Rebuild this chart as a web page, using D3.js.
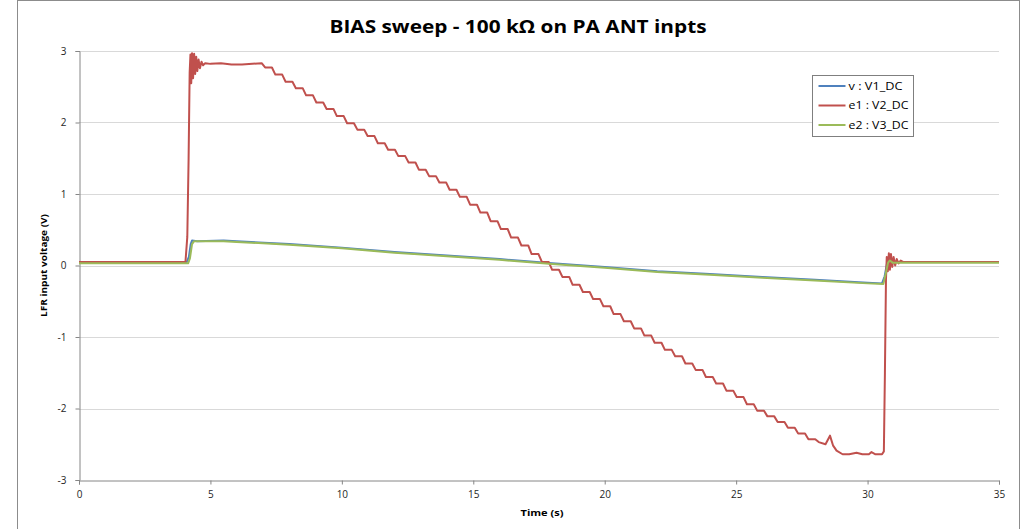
<!DOCTYPE html>
<html><head><meta charset="utf-8">
<script src="https://cdn.jsdelivr.net/npm/d3@7"></script>
<style>
body{margin:0;background:#fff}
svg{display:block}
text{font-family:"Open Sans",Lato,"DejaVu Sans",sans-serif}
</style>
</head><body>
<svg id="chart" width="1025" height="529"></svg>
<script>
// ---------- data ----------
const chartTitle = "BIAS sweep - 100 kΩ on PA ANT inpts";
const xAxisTitle = "Time (s)";
const yAxisTitle = "LFR input voltage (V)";
const xTickValues = [0, 5, 10, 15, 20, 25, 30, 35];
const yTickValues = [-3, -2, -1, 0, 1, 2, 3];
const seriesNames = ["v : V1_DC", "e1 : V2_DC", "e2 : V3_DC"];

// v : V1_DC
const v1Time = [0, 4.1, 4.18, 4.25, 4.3, 4.5, 5.5, 6.0, 8, 10, 12, 14, 16, 18, 20, 22, 24, 26, 28, 30, 30.55, 30.65, 30.75, 30.8, 30.9, 35];
const v1Volt = [0.05, 0.05, 0.12, 0.30, 0.35, 0.34, 0.35, 0.34, 0.30, 0.25, 0.19, 0.14, 0.09, 0.03, -0.02, -0.08, -0.12, -0.16, -0.20, -0.24, -0.25, -0.15, 0.05, 0.08, 0.05, 0.05];

// e1 : V2_DC
const v2Time = [0, 4.05, 4.12, 4.17, 4.21, 4.24, 4.27, 4.30, 4.34, 4.38, 4.42, 4.46, 4.50, 4.55, 4.60, 4.66, 4.72, 4.8, 5.0, 5.4, 5.8, 6.2, 6.6,
  6.95, 7.08, 7.34, 7.47, 7.73, 7.86, 8.12, 8.25, 8.51, 8.64, 8.90, 9.03, 9.29, 9.42, 9.68, 9.81,
  10.07, 10.20, 10.46, 10.59, 10.85, 10.98, 11.24, 11.37, 11.63, 11.76, 12.02, 12.15, 12.41, 12.54, 12.80, 12.93,
  13.19, 13.32, 13.58, 13.71, 13.97, 14.10, 14.36, 14.49, 14.75, 14.88, 15.14, 15.27, 15.53, 15.66, 15.92, 16.05,
  16.31, 16.44, 16.70, 16.83, 17.09, 17.22, 17.48, 17.61, 17.87, 18.00, 18.26, 18.39, 18.65, 18.78, 19.04, 19.17,
  19.43, 19.56, 19.82, 19.95, 20.21, 20.34, 20.60, 20.73, 20.99, 21.12, 21.38, 21.51, 21.77, 21.90, 22.16, 22.29,
  22.55, 22.68, 22.94, 23.07, 23.33, 23.46, 23.72, 23.85, 24.11, 24.24, 24.50, 24.63, 24.89, 25.02, 25.28, 25.41,
  25.67, 25.80, 26.06, 26.19, 26.45, 26.58, 26.84, 26.97, 27.23, 27.36, 27.62, 27.75, 28.01, 28.14,
  28.40, 28.57, 28.69, 28.82, 29.05, 29.3, 29.58, 29.8, 30.05, 30.15, 30.3, 30.55, 30.62, 30.66, 30.70, 30.73,
  30.77, 30.81, 30.85, 30.89, 30.94, 30.99, 31.05, 31.11, 31.18, 31.26, 31.35, 35];
const v2Volt = [0.05, 0.05, 0.4, 1.5, 2.7, 2.95, 2.55, 2.97, 2.62, 2.96, 2.68, 2.92, 2.72, 2.88, 2.76, 2.85, 2.80, 2.83, 2.82, 2.83, 2.81, 2.81, 2.82,
  2.83, 2.77, 2.77, 2.67, 2.67, 2.57, 2.57, 2.48, 2.48, 2.38, 2.38, 2.28, 2.28, 2.19, 2.19, 2.09,
  2.09, 1.99, 1.99, 1.90, 1.90, 1.81, 1.81, 1.71, 1.71, 1.62, 1.62, 1.53, 1.53, 1.44, 1.44, 1.34,
  1.34, 1.25, 1.25, 1.16, 1.16, 1.06, 1.06, 0.96, 0.96, 0.85, 0.85, 0.74, 0.74, 0.62, 0.62, 0.51,
  0.51, 0.39, 0.39, 0.28, 0.28, 0.16, 0.16, 0.05, 0.05, -0.06, -0.06, -0.16, -0.16, -0.27, -0.27, -0.37,
  -0.37, -0.47, -0.47, -0.57, -0.57, -0.68, -0.68, -0.78, -0.78, -0.88, -0.88, -0.98, -0.98, -1.08, -1.08, -1.18,
  -1.18, -1.27, -1.27, -1.37, -1.37, -1.46, -1.46, -1.56, -1.56, -1.65, -1.65, -1.75, -1.75, -1.84, -1.84, -1.94,
  -1.94, -2.03, -2.03, -2.11, -2.11, -2.19, -2.19, -2.27, -2.27, -2.35, -2.35, -2.43, -2.43, -2.47,
  -2.50, -2.38, -2.52, -2.59, -2.64, -2.64, -2.62, -2.64, -2.64, -2.61, -2.64, -2.64, -2.60, -1.5, -0.2, 0.12,
  -0.08, 0.17, -0.06, 0.16, -0.02, 0.12, 0.0, 0.09, 0.03, 0.07, 0.05, 0.05];

// e2 : V3_DC
const v3Time = [0, 4.15, 4.22, 4.3, 4.38, 5.5, 6.0, 8, 10, 12, 14, 16, 18, 20, 22, 24, 26, 28, 30, 30.6, 30.7, 30.78, 30.85, 30.95, 35];
const v3Volt = [0.03, 0.03, 0.10, 0.30, 0.34, 0.34, 0.33, 0.29, 0.24, 0.18, 0.13, 0.08, 0.02, -0.03, -0.09, -0.13, -0.17, -0.21, -0.25, -0.26, -0.10, 0.04, 0.07, 0.04, 0.04];

// ---------- styles ----------
const colors = ["#4F81BD", "#C0504D", "#9BBB59"];
const legendTextWidths = [54, 60, 60];
const W = 1025, H = 529;
const m = {left: 79, right: 26, top: 51, bottom: 49};

const svg = d3.select("#chart");
svg.append("rect").attr("x", 17.5).attr("y", 0.5).attr("width", 1002).attr("height", 540)
  .attr("fill", "#fff").attr("stroke", "#8c8c8c").attr("stroke-width", 1);

const x = d3.scaleLinear().domain([0, 35]).range([m.left, W - m.right]);
const y = d3.scaleLinear().domain([-3, 3]).range([H - m.bottom, m.top]);

// gridlines
svg.append("g").selectAll("line").data(yTickValues.filter(d => d > -3)).join("line")
  .attr("x1", x(0)).attr("x2", x(35))
  .attr("y1", d => Math.round(y(d)) + 0.5).attr("y2", d => Math.round(y(d)) + 0.5)
  .attr("stroke", "#d9d9d9").attr("stroke-width", 1.2);

// axes
const fmt = d => String(d);
const xAxis = svg.append("g").attr("transform", `translate(0,${Math.round(y(-3)) + 0.5})`)
  .call(d3.axisBottom(x).tickValues(xTickValues).tickFormat(fmt).tickSize(4).tickPadding(6));
const yAxis = svg.append("g").attr("transform", `translate(${Math.round(x(0)) + 0.5},0)`)
  .call(d3.axisLeft(y).tickValues(yTickValues).tickFormat(fmt).tickSize(4).tickPadding(9));
[xAxis, yAxis].forEach(g => {
  g.select(".domain").attr("stroke", "#868686");
  g.selectAll(".tick line").attr("stroke", "#868686");
  g.selectAll(".tick text").attr("fill", "#262626").attr("font-size", 10)
    .style("font-family", "'Open Sans', Lato, sans-serif");
});

// lines
const line = d3.line().x(d => x(d[0])).y(d => y(d[1]));
const series = [
  d3.zip(v1Time, v1Volt),
  d3.zip(v2Time, v2Volt),
  d3.zip(v3Time, v3Volt)
];
svg.append("g").selectAll("path").data(series).join("path")
  .attr("d", line).attr("fill", "none")
  .attr("stroke", (d, i) => colors[i]).attr("stroke-width", 2)
  .attr("stroke-linejoin", "round");

// title
svg.append("text").attr("x", 518).attr("y", 32.5).attr("text-anchor", "middle")
  .attr("font-size", 17.5).attr("font-weight", "bold").attr("fill", "#000")
  .attr("textLength", 377).attr("lengthAdjust", "spacingAndGlyphs").text(chartTitle);

// axis titles
svg.append("text").attr("x", (x(0) + x(35)) / 2 + 3).attr("y", 516).attr("text-anchor", "middle")
  .attr("font-size", 9.5).attr("font-weight", "bold").attr("fill", "#000")
  .attr("textLength", 43).attr("lengthAdjust", "spacingAndGlyphs").text(xAxisTitle);
svg.append("text").attr("transform", `translate(47,${y(0)}) rotate(-90)`).attr("text-anchor", "middle")
  .attr("font-size", 9.5).attr("font-weight", "bold").attr("fill", "#000")
  .attr("textLength", 103).attr("lengthAdjust", "spacingAndGlyphs").text(yAxisTitle);

// legend
const lg = svg.append("g").attr("transform", "translate(812.5,75.5)");
lg.append("rect").attr("width", 101).attr("height", 61).attr("fill", "#fff")
  .attr("stroke", "#7f7f7f").attr("stroke-width", 1);
const items = lg.selectAll("g.item").data(seriesNames).join("g").attr("class", "item")
  .attr("transform", (d, i) => `translate(0,${10.5 + i * 19.5})`);
items.append("line").attr("x1", 6).attr("x2", 33).attr("y1", 0).attr("y2", 0)
  .attr("stroke", (d, i) => colors[i]).attr("stroke-width", 2);
items.append("text").attr("x", 36).attr("y", 3.5).attr("font-size", 10).attr("fill", "#000")
  .attr("textLength", (d, i) => legendTextWidths[i]).attr("lengthAdjust", "spacingAndGlyphs").text(d => d);
</script>
</body></html>
